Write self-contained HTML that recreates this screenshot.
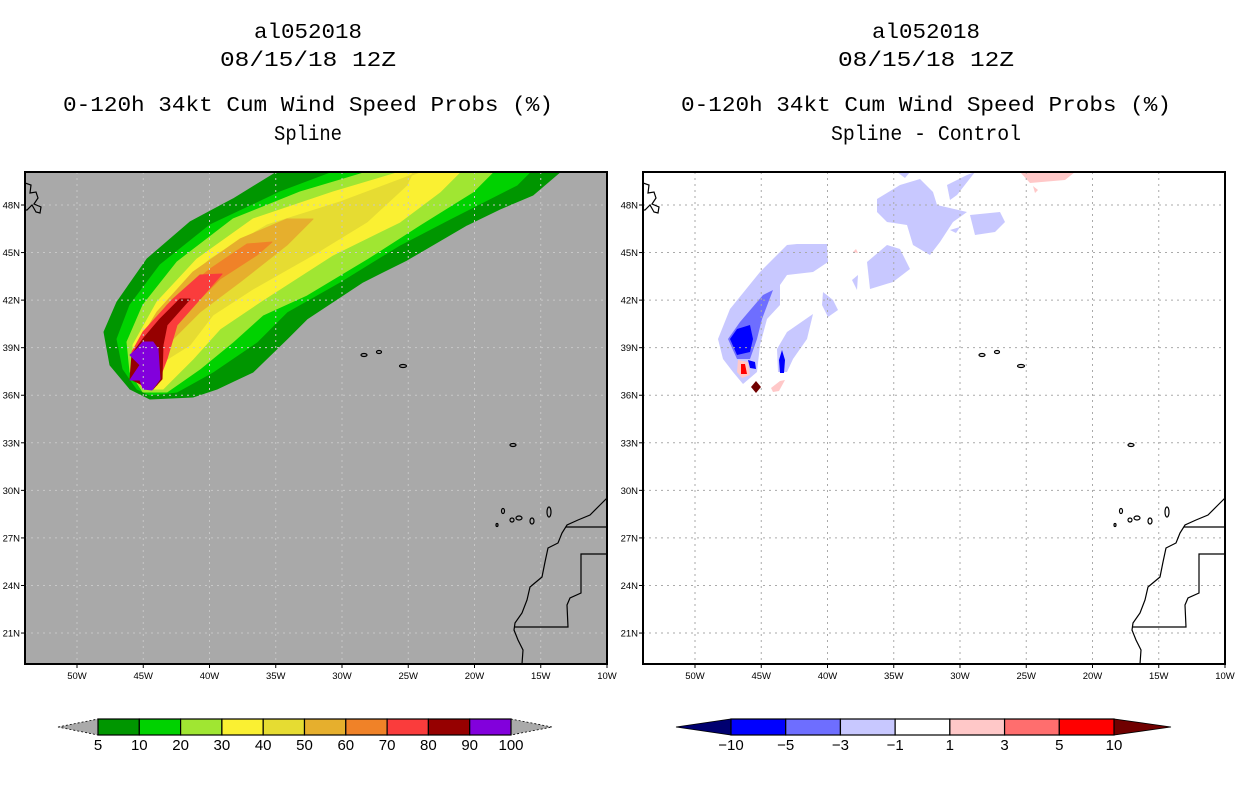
<!DOCTYPE html>
<html><head><meta charset="utf-8"><style>
html,body{margin:0;padding:0;background:#fff}
svg{display:block}
</style></head><body>
<svg id="s" width="1236" height="800" viewBox="0 0 1236 800" xmlns="http://www.w3.org/2000/svg" font-family="Liberation Sans, sans-serif">
<defs>
<clipPath id="cl"><rect x="25" y="172" width="582" height="492"/></clipPath>
<clipPath id="cr"><rect x="643" y="172" width="582" height="492"/></clipPath>
</defs>
<g style="font-family:'Liberation Mono',monospace" font-size="21" text-anchor="middle" fill="#000">
<text x="308" y="38" textLength="108" lengthAdjust="spacingAndGlyphs">al052018</text>
<text x="308" y="66" textLength="176" lengthAdjust="spacingAndGlyphs">08/15/18 12Z</text>
<text x="308" y="111" textLength="490" lengthAdjust="spacingAndGlyphs">0-120h 34kt Cum Wind Speed Probs (%)</text>
<text x="308" y="140" textLength="68" lengthAdjust="spacingAndGlyphs">Spline</text>
</g>
<g style="font-family:'Liberation Mono',monospace" font-size="21" text-anchor="middle" fill="#000">
<text x="926" y="38" textLength="108" lengthAdjust="spacingAndGlyphs">al052018</text>
<text x="926" y="66" textLength="176" lengthAdjust="spacingAndGlyphs">08/15/18 12Z</text>
<text x="926" y="111" textLength="490" lengthAdjust="spacingAndGlyphs">0-120h 34kt Cum Wind Speed Probs (%)</text>
<text x="926" y="140" textLength="190" lengthAdjust="spacingAndGlyphs">Spline - Control</text>
</g>

<rect x="25" y="172" width="582" height="492" fill="#a9a9a9"/>
<g id="plume" clip-path="url(#cl)"></g>
<rect x="643" y="172" width="582" height="492" fill="#fff"/>
<g id="diff" clip-path="url(#cr)"></g>
<g id="gridL"></g>
<g id="gridR"></g>
<g id="coastL" clip-path="url(#cl)"></g>
<g id="coastR" clip-path="url(#cr)"></g>
<rect x="25" y="172" width="582" height="492" fill="none" stroke="#000" stroke-width="2"/>
<rect x="643" y="172" width="582" height="492" fill="none" stroke="#000" stroke-width="2"/>
<g id="axes"></g>
<g id="cbL"></g>
<g id="cbR"></g>
</svg>
<script>
const NS="http://www.w3.org/2000/svg";
const lonTicks=[-50,-45,-40,-35,-30,-25,-20,-15,-10];
const lonLabels=["50W","45W","40W","35W","30W","25W","20W","15W","10W"];
const latTicks=[48,45,42,39,36,33,30,27,24,21];
const latLabels=["48N","45N","42N","39N","36N","33N","30N","27N","24N","21N"];
const probLevels=["5","10","20","30","40","50","60","70","80","90","100"];
const probColors=["#009600","#00d200","#a0e632","#faf032","#e6dc32","#e6af2d","#f08228","#fa3c3c","#960000","#8200dc"];
const diffLabels=["\u221210","\u22125","\u22123","\u22121","1","3","5","10"];
const diffColors=["#000070","#0000ff","#6e6eff","#c8c8ff","#ffffff","#ffc8c8","#ff6e6e","#ff0000","#700000"];

function lonx(lon,off){return 77+(lon+50)*66.25/5+(off||0);}
function laty(lat){return 205+(48-lat)*47.56/3;}
function mk(tag,attrs,parent){const e=document.createElementNS(NS,tag);for(const k in attrs)e.setAttribute(k,attrs[k]);parent.appendChild(e);return e;}

const plumeShapes=[
[[277,172],[233,199],[190,222],[147,259],[117,302],[104,332],[110,365],[130,389],[150,399],[193,397],[217,389],[253,372],[287,339],[307,319],[363,282],[407,260],[467,225],[500,209],[533,195],[560,172]],
[[333,172],[280,192],[210,225],[160,265],[130,305],[117,339],[123,369],[137,389],[150,395],[177,392],[213,372],[257,342],[287,312],[340,282],[400,245],[450,219],[517,185],[530,172]],
[[367,172],[300,192],[233,219],[177,262],[143,305],[127,342],[130,372],[143,392],[167,392],[200,369],[233,342],[263,315],[307,295],[367,259],[420,225],[473,192],[493,172]],
[[400,172],[333,192],[253,219],[197,259],[157,302],[133,345],[133,372],[143,389],[163,389],[193,359],[220,329],[260,302],[333,255],[400,222],[440,192],[460,172]],
[[420,172],[340,202],[267,225],[210,259],[170,299],[140,345],[150,370],[190,345],[213,315],[253,289],[313,255],[367,222],[407,185],[413,172]],
[[313,219],[287,219],[240,239],[193,272],[157,312],[137,345],[150,365],[173,339],[200,312],[240,282],[287,245]],
[[272,242],[247,244],[210,269],[167,305],[140,342],[150,362],[163,339],[187,312],[220,279],[257,255]],
[[222,274],[200,275],[173,299],[143,332],[132,352],[133,379],[147,389],[157,385],[167,359],[177,325],[200,299]],
[[190,299],[180,299],[160,319],[143,339],[132,354],[130,379],[143,385],[153,389],[162,379],[163,345],[167,325]],
[[143,342],[153,342],[158,349],[160,379],[152,390],[143,389],[140,380],[130,380],[140,365],[130,355],[137,349]]
];
const plume=document.getElementById('plume');
plumeShapes.forEach((pts,i)=>{
  const p=mk('polygon',{points:pts.map(q=>q.join(',')).join(' '),fill:probColors[i],stroke:probColors[i],'stroke-width':1,'stroke-linejoin':'round'},plume);
  
  
});

const diffShapes=[
[3,[[718,339],[730,309],[760,272],[787,245],[797,244],[827,244],[828,262],[813,272],[787,275],[780,285],[780,305],[767,319],[760,345],[757,372],[743,384],[733,372],[723,359]]],
[3,[[777,349],[787,332],[813,314],[807,339],[793,359],[787,372],[778,372]]],
[3,[[877,199],[900,185],[920,179],[933,192],[937,205],[967,212],[953,222],[940,242],[930,255],[913,245],[907,225],[887,222],[877,212]]],
[3,[[867,262],[887,245],[900,249],[910,269],[893,282],[870,289]]],
[3,[[947,185],[967,175],[975,172],[957,195],[950,200]]],
[3,[[897,172],[910,172],[905,178]]],
[3,[[970,215],[1000,212],[1005,222],[995,232],[975,235]]],
[3,[[950,230],[960,227],[956,233]]],
[3,[[823,292],[833,300],[838,310],[828,317],[822,305]]],
[3,[[852,280],[858,275],[857,290]]],
[2,[[728,339],[740,322],[763,295],[773,290],[762,319],[757,339],[750,359],[737,359]]],
[1,[[730,339],[737,329],[750,325],[753,339],[750,352],[737,355]]],
[1,[[748,360],[755,362],[756,369],[750,368]]],
[1,[[782,350],[785,360],[784,373],[780,373],[779,360]]],
[5,[[1020,172],[1075,172],[1065,180],[1030,183]]],
[5,[[1033,186],[1038,190],[1035,193]]],
[5,[[853,252],[856,249],[858,253]]],
[5,[[771,388],[780,381],[785,380],[779,391],[773,392]]],
[5,[[738,360],[748,362],[750,375],[742,378],[737,372]]],
[7,[[741,364],[745,364],[747,374],[741,374]]],
[8,[[756,381],[761,387],[756,393],[751,387]]]
];
const diff=document.getElementById('diff');
diffShapes.forEach((s,i)=>{
  const p=mk('polygon',{points:s[1].map(q=>q.join(',')).join(' '),fill:diffColors[s[0]]},diff);
  
  
});

function grid(g,off,col){
  lonTicks.forEach(l=>{const x=lonx(l,off);mk('line',{x1:x,y1:172,x2:x,y2:664,stroke:col,'stroke-width':1,'stroke-dasharray':'2 4'},g);});
  latTicks.forEach(l=>{const y=laty(l);mk('line',{x1:25+off,y1:y,x2:607+off,y2:y,stroke:col,'stroke-width':1,'stroke-dasharray':'2 4'},g);});
}
grid(document.getElementById('gridL'),0,'#c8c8c8');
grid(document.getElementById('gridR'),618,'#aaaaaa');

const coastLines=[
[[607,498],[600,505],[590,515],[578,520],[567,525],[562,533],[558,543],[548,548],[545,562],[542,577],[530,587],[527,600],[522,613],[515,623],[514,630],[518,640],[523,650],[522,664]],
[[566,527],[607,527]],
[[607,554],[581,554],[581,593],[570,598],[567,605],[568,627],[515,627]],
[[25,183],[31,185],[30,193],[36,192],[38,198],[34,204],[41,207],[40,213],[36,212],[32,205],[27,210],[25,210]]
];
const islands=[[364,355,3,1.5],[379,352,2.5,1.5],[403,366,3.5,1.5],[513,445,3,1.5],[503,511,1.5,2.5],[512,520,2,2],[519,518,3,2],[532,521,2,3],[549,512,2,5],[497,525,1,1.5]];
function coast(g,off){
  coastLines.forEach(c=>mk('polyline',{points:c.map(q=>(q[0]+off)+','+q[1]).join(' '),fill:'none',stroke:'#000','stroke-width':1.2},g));
  islands.forEach(s=>mk('ellipse',{cx:s[0]+off,cy:s[1],rx:s[2],ry:s[3],fill:'none',stroke:'#000','stroke-width':1.2},g));
}
coast(document.getElementById('coastL'),0);
coast(document.getElementById('coastR'),618);

const ax=document.getElementById('axes');
[0,618].forEach(off=>{
  lonTicks.forEach((l,i)=>{const x=lonx(l,off);
    mk('line',{x1:x,y1:664,x2:x,y2:668,stroke:'#000'},ax);
    const t=mk('text',{x:x,y:679,'font-size':9.5,'text-anchor':'middle'},ax);t.textContent=lonLabels[i];});
  latTicks.forEach((l,i)=>{const y=laty(l);
    mk('line',{x1:21+off,y1:y,x2:25+off,y2:y,stroke:'#000'},ax);
    const t=mk('text',{x:20+off,y:y+3.5,'font-size':9.5,'text-anchor':'end'},ax);t.textContent=latLabels[i];});
});

function colorbar(g,x0,x1,tri0,tri1,cols,labels){
  const n=cols.length-2, w=(x1-x0)/n, y0=719, y1=735, ym=727;
  const dash=cols[0]=='#aaaaaa'?'2 2':'none';
  mk('polygon',{points:`${tri0},${ym} ${x0},${y0} ${x0},${y1}`,fill:cols[0],stroke:'#000','stroke-width':0.8,'stroke-dasharray':dash},g);
  mk('polygon',{points:`${tri1},${ym} ${x1},${y0} ${x1},${y1}`,fill:cols[cols.length-1],stroke:'#000','stroke-width':0.8,'stroke-dasharray':dash},g);
  for(let i=0;i<n;i++){mk('rect',{x:x0+i*w,y:y0,width:w,height:y1-y0,fill:cols[i+1],stroke:'#000','stroke-width':1.2},g);}
  labels.forEach((l,i)=>{const t=mk('text',{x:x0+i*w,y:750,'font-size':15,'text-anchor':'middle'},g);t.textContent=l;});
}
colorbar(document.getElementById('cbL'),98,511,58,552,["#aaaaaa"].concat(probColors,["#aaaaaa"]),probLevels);
colorbar(document.getElementById('cbR'),731,1114,676,1171,diffColors,diffLabels);
</script>
</body></html>
